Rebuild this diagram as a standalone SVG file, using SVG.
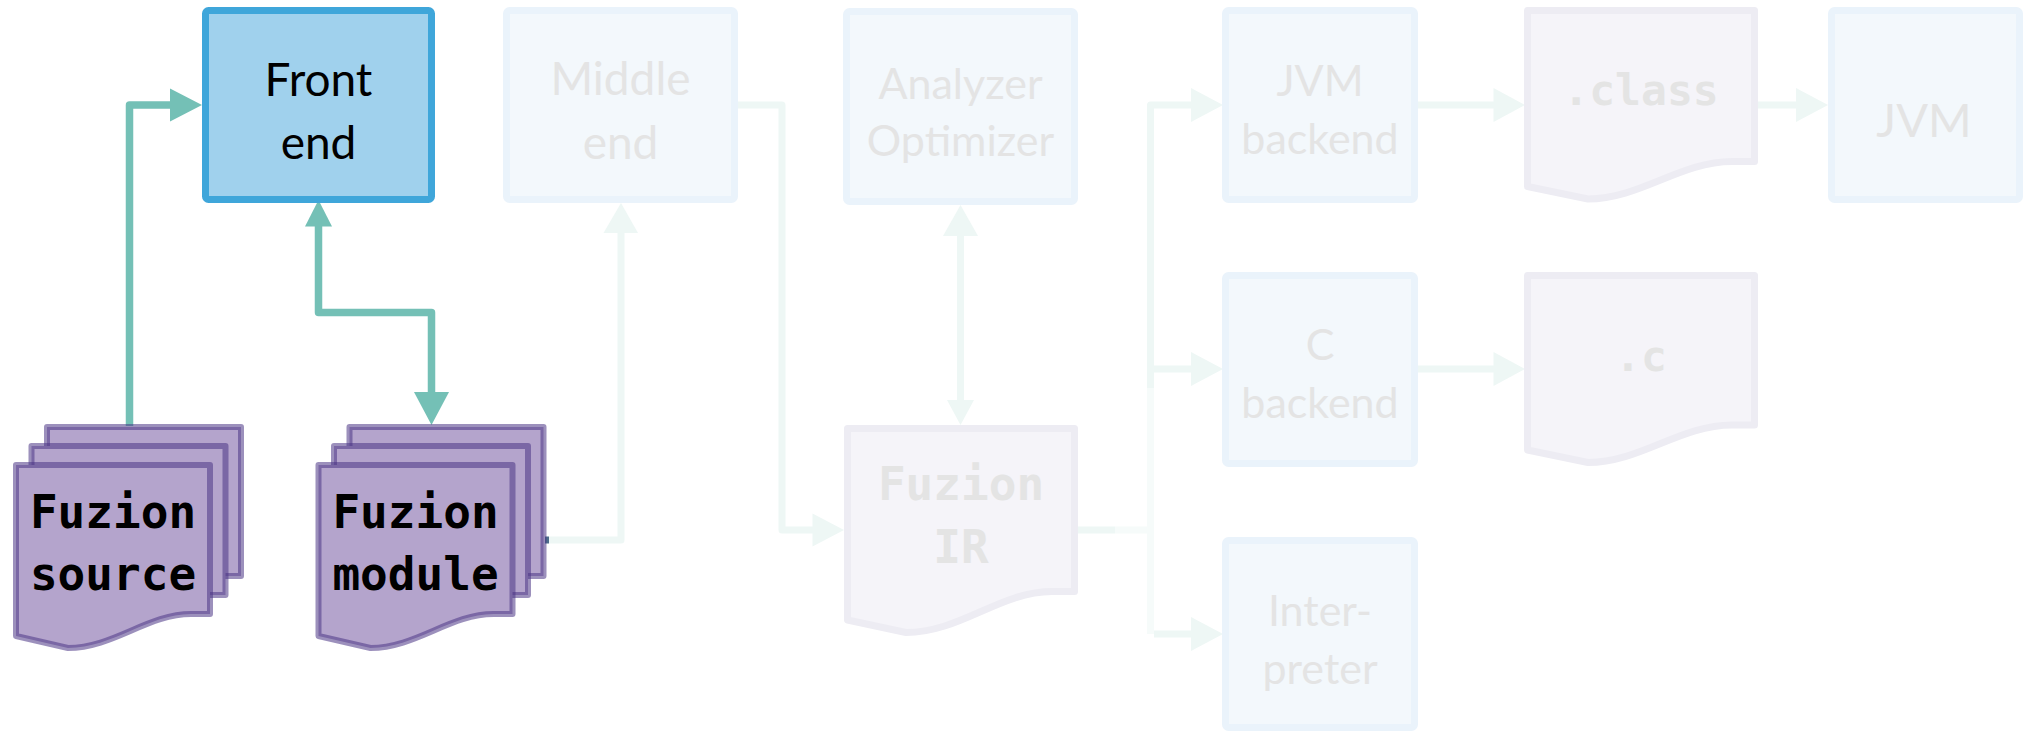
<svg xmlns="http://www.w3.org/2000/svg" width="2032" height="732" viewBox="0 0 2032 732">
<style>
.bg{fill:#ffffff}
.box{fill:#f3f8fc;stroke:#eaf3fb;stroke-width:7;stroke-linejoin:round}
.active{fill:#a0d1ed;stroke:#3fa6da;stroke-width:7;stroke-linejoin:round}
.lbl{font-family:Lato,"Open Sans","Liberation Sans",sans-serif;font-size:46px;text-anchor:middle;fill:#e4e4e4}
.sm{font-size:43px}
.lg{font-size:47px}
.mono{font-family:"DejaVu Sans Mono","Liberation Mono",monospace;font-weight:bold;font-size:46px;text-anchor:middle;fill:#e4e4e4}
.ext{font-size:43px}
text.dark{fill:#000000}
.fdoc{fill:#f5f4f9;stroke:#edecf3;stroke-width:7;stroke-linejoin:round}
.page{fill:#b4a4cc;stroke:#4a3585;stroke-opacity:0.55;stroke-width:6;stroke-linejoin:round}
.wire{fill:none;stroke:#74c0b6;stroke-width:7.5;stroke-linejoin:round}
.head{fill:#74c0b6}
.fwire{fill:none;stroke:#eef7f5;stroke-width:7;stroke-linejoin:round}
.fwire2{fill:none;stroke:#f6fbfa;stroke-width:7}
.fhead{fill:#eef7f5}
</style>
<rect class="bg" x="0" y="0" width="2032" height="732"/>

<g id="connectors">
  <!-- faded connectors -->
  <path class="fwire" d="M549,540 H621 V232"/>
  <path d="M545,540 H549" stroke="#4d6c8a" stroke-width="7" fill="none"/>
  <polygon class="fhead" points="603.5,233 638,233 621,203"/>
  <path class="fwire" d="M738,105 H782 V530 H813"/>
  <polygon class="fhead" points="812.5,513.5 844,530 812.5,546.5"/>
  <path class="fwire" d="M960.5,235 V401"/>
  <polygon class="fhead" points="943,236 978,236 960.5,205"/>
  <polygon class="fhead" points="947,400 974,400 960.5,425"/>
  <path class="fwire" d="M1078,530 H1115"/>
  <path class="fwire2" d="M1115,530 H1150.5"/>
  <path class="fwire" d="M1192,105 H1150.5 V388"/>
  <path class="fwire2" d="M1150.5,388 V634"/>
  <path class="fwire" d="M1150.5,369 H1192"/>
  <path class="fwire" d="M1154,634 H1192"/>
  <polygon class="fhead" points="1191,88 1223,105 1191,122"/>
  <polygon class="fhead" points="1191,352 1223,369 1191,386"/>
  <polygon class="fhead" points="1191,617 1223,634 1191,651"/>
  <path class="fwire" d="M1418,105 H1494"/>
  <polygon class="fhead" points="1493.5,88 1525,105 1493.5,122"/>
  <path class="fwire" d="M1418,369 H1494"/>
  <polygon class="fhead" points="1493.5,352 1525,369 1493.5,386"/>
  <path class="fwire" d="M1758,105 H1797"/>
  <polygon class="fhead" points="1796,88 1828,105 1796,122"/>
  <!-- active connectors -->
  <path class="wire" d="M129.5,426 V105 H171"/>
  <polygon class="head" points="170,88.5 202,105 170,121.5"/>
  <path class="wire" d="M318.5,225 V312.5 H431.5 V393"/>
  <polygon class="head" points="305,226.5 318.5,200 332,226.5"/>
  <polygon class="head" points="414,392 449,392 431.5,425"/>
</g>

<g id="front-end">
  <rect class="active" x="205.5" y="10.5" width="226" height="189" rx="3"/>
  <text class="lbl dark" x="318.5" y="96">Front</text>
  <text class="lbl dark" x="318.5" y="159">end</text>
</g>

<g id="middle-end">
  <rect class="box" x="506.5" y="10.5" width="228" height="189" rx="3"/>
  <text class="lbl" x="620.5" y="95">Middle</text>
  <text class="lbl" x="620.5" y="159">end</text>
</g>

<g id="analyzer-optimizer">
  <rect class="box" x="846.5" y="11.5" width="228" height="190" rx="3"/>
  <text class="lbl sm" x="960.5" y="99">Analyzer</text>
  <text class="lbl sm" x="960.5" y="156">Optimizer</text>
</g>

<g id="jvm-backend">
  <rect class="box" x="1225.5" y="10.5" width="189" height="189" rx="3"/>
  <text class="lbl sm" x="1320" y="96">JVM</text>
  <text class="lbl sm" x="1320" y="154">backend</text>
</g>

<g id="c-backend">
  <rect class="box" x="1225.5" y="275.5" width="189" height="188" rx="3"/>
  <text class="lbl sm" x="1320" y="359.5">C</text>
  <text class="lbl sm" x="1320" y="418">backend</text>
</g>

<g id="interpreter">
  <rect class="box" x="1225.5" y="540.5" width="189" height="187" rx="3"/>
  <text class="lbl sm" x="1320" y="625.5">Inter-</text>
  <text class="lbl sm" x="1320" y="684">preter</text>
</g>

<g id="jvm">
  <rect class="box" x="1831.5" y="10.5" width="188" height="189" rx="3"/>
  <text class="lbl lg" x="1924" y="136.5">JVM</text>
</g>

<g id="class-file">
  <path class="fdoc" d="M1527.5,10.5 H1754.5 V161.5 H1732 C1680,161.5 1640,199 1588,199 L1527.5,186.5 Z"/>
  <text class="mono ext" x="1641" y="105">.class</text>
</g>

<g id="c-file">
  <path class="fdoc" d="M1527.5,275.5 H1754.5 V425 H1732 C1680,425 1640,462.5 1588,462.5 L1527.5,450 Z"/>
  <text class="mono ext" x="1641" y="371">.c</text>
</g>

<g id="fuzion-ir">
  <path class="fdoc" d="M847.5,428.5 H1074.5 V591.5 H1052 C1000,591.5 960,632.5 906,632.5 L847.5,620 Z"/>
  <text class="mono" x="961" y="499.5">Fuzion</text>
  <text class="mono" x="961" y="562.5">IR</text>
</g>

<g id="fuzion-source">
  <path class="page" d="M47,427 H241 V576 H222 C179,576 144,610 99,610 L47,598 Z"/>
  <path class="page" d="M31.5,446 H225.5 V595 H206.5 C163.5,595 128.5,629 83.5,629 L31.5,617 Z"/>
  <path class="page" d="M16,465 H210 V614 H191 C148,614 113,648 68,648 L16,636 Z"/>
  <text class="mono dark" x="113" y="528">Fuzion</text>
  <text class="mono dark" x="113" y="590">source</text>
</g>

<g id="fuzion-module">
  <path class="page" d="M349.5,427 H543.5 V576 H524.5 C481.5,576 446.5,610 401.5,610 L349.5,598 Z"/>
  <path class="page" d="M334,446 H528 V595 H509 C466,595 431,629 386,629 L334,617 Z"/>
  <path class="page" d="M318.5,465 H512.5 V614 H493.5 C450.5,614 415.5,648 370.5,648 L318.5,636 Z"/>
  <text class="mono dark" x="415.5" y="528">Fuzion</text>
  <text class="mono dark" x="415.5" y="590">module</text>
</g>
</svg>
